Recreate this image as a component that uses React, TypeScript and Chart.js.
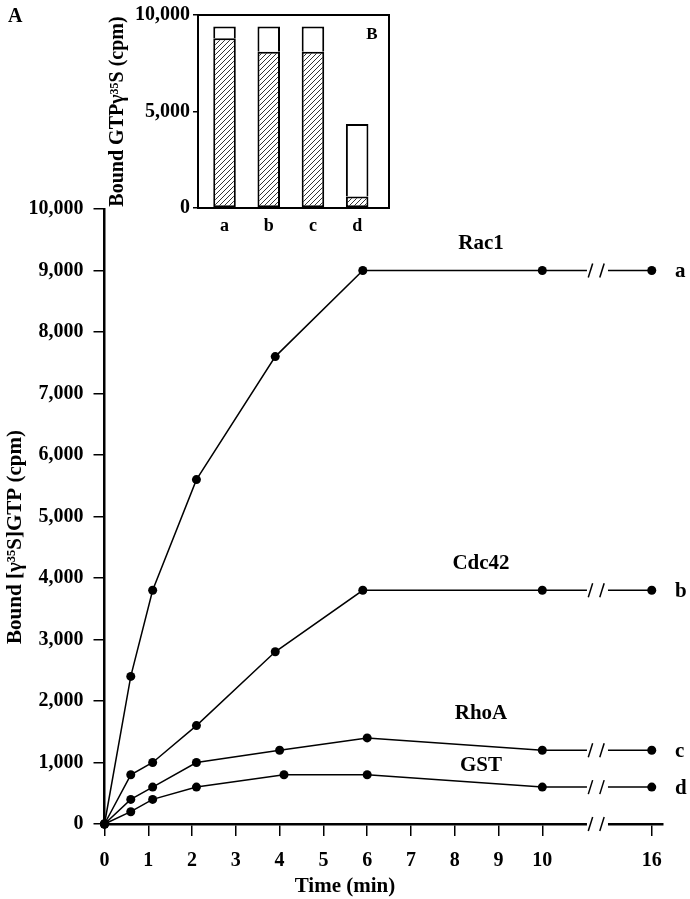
import React, { useEffect, useRef } from 'react';
import { Chart, registerables } from 'chart.js';

Chart.register(...registerables);

const FONT = "'Liberation Serif', 'Times New Roman', Times, serif";

// ---- Panel A data ----
const rac1Time = [0, 0.6, 1.1, 2.1, 3.9, 5.9, 10, 16];
const rac1Values = [0, 2400, 3800, 5600, 7600, 9000, 9000, 9000];
const cdc42Time = [0, 0.6, 1.1, 2.1, 3.9, 5.9, 10, 16];
const cdc42Values = [0, 800, 1000, 1600, 2800, 3800, 3800, 3800];
const rhoATime = [0, 0.6, 1.1, 2.1, 4.0, 6.0, 10, 16];
const rhoAValues = [0, 400, 600, 1000, 1200, 1400, 1200, 1200];
const gstTime = [0, 0.6, 1.1, 2.1, 4.1, 6.0, 10, 16];
const gstValues = [0, 200, 400, 600, 800, 800, 600, 600];
const seriesNames = ['Rac1', 'Cdc42', 'RhoA', 'GST'];
const seriesLetters = ['a', 'b', 'c', 'd'];
const xTickTimes = [0, 1, 2, 3, 4, 5, 6, 7, 8, 9, 10, 16];
const yMaxA = 10000;
const yStepA = 1000;

// ---- Panel B (inset) data ----
const insetCategories = ['a', 'b', 'c', 'd'];
const insetHatched = [8800, 8100, 8100, 600];
const insetOpen = [600, 1300, 1300, 3750];
const yMaxB = 10000;
const yStepB = 5000;

// broken time axis: after 10 min the scale is compressed
const BREAK_AT = 10;
const COMPRESS = 2.5 / 6;
const pos = (t: number) => (t <= BREAK_AT ? t : BREAK_AT + (t - BREAK_AT) * COMPRESS);
const X_END_TIME = 16.6;
const GAP_START = 11.02;
const GAP_END = 11.5;

const fmt = (v: number) => Number(v).toLocaleString('en-US');

function makeHatch(): CanvasPattern | string {
  const c = document.createElement('canvas');
  c.width = 5;
  c.height = 5;
  const g = c.getContext('2d');
  if (!g) return '#999';
  g.fillStyle = '#ffffff';
  g.fillRect(0, 0, 5, 5);
  g.strokeStyle = '#333333';
  g.lineWidth = 1;
  g.beginPath();
  g.moveTo(-1, 6);
  g.lineTo(6, -1);
  g.moveTo(-1, 1);
  g.lineTo(1, -1);
  g.moveTo(4, 6);
  g.lineTo(6, 4);
  g.stroke();
  return g.createPattern(c, 'repeat') || '#999';
}

export default function App() {
  const mainRef = useRef<HTMLCanvasElement>(null);
  const insetRef = useRef<HTMLCanvasElement>(null);

  useEffect(() => {
    if (!mainRef.current || !insetRef.current) return;
    const series = [
      { t: rac1Time, v: rac1Values },
      { t: cdc42Time, v: cdc42Values },
      { t: rhoATime, v: rhoAValues },
      { t: gstTime, v: gstValues },
    ];
    const labelOffsets = [27, 27, 37, 22];

    const annotPlugin = {
      id: 'annotA',
      afterDraw(chart: any) {
        const ctx = chart.ctx;
        const xs = chart.scales.x;
        const ys = chart.scales.y;
        const area = chart.chartArea;
        ctx.save();
        // axis / line break
        const g0 = xs.getPixelForValue(GAP_START);
        const g1 = xs.getPixelForValue(GAP_END);
        ctx.fillStyle = '#ffffff';
        ctx.fillRect(g0, area.top - 2, g1 - g0, area.bottom - area.top + 4);
        ctx.strokeStyle = '#000';
        ctx.lineWidth = 1.5;
        const slashAt = (cy: number) => {
          [g0 + 3.5, g1 - 6].forEach((cx) => {
            ctx.beginPath();
            ctx.moveTo(cx - 2.2, cy + 7);
            ctx.lineTo(cx + 2.2, cy - 7);
            ctx.stroke();
          });
        };
        series.forEach((s) => {
          slashAt(ys.getPixelForValue(s.v[s.v.length - 2]));
        });
        slashAt(area.bottom);

        ctx.fillStyle = '#000';
        ctx.textBaseline = 'middle';
        // series names and letters
        ctx.font = `bold 21px ${FONT}`;
        ctx.textAlign = 'center';
        series.forEach((s, i) => {
          const last = s.v[s.v.length - 1];
          ctx.fillText(seriesNames[i], xs.getPixelForValue(8.6), ys.getPixelForValue(last) - labelOffsets[i]);
        });
        ctx.textAlign = 'left';
        series.forEach((s, i) => {
          const last = s.v[s.v.length - 1];
          ctx.fillText(seriesLetters[i], 675, ys.getPixelForValue(last) + 1);
        });
        // panel letter
        ctx.font = `bold 20px ${FONT}`;
        ctx.fillText('A', 8, 17);
        // axis titles
        ctx.font = `bold 21px ${FONT}`;
        ctx.textAlign = 'center';
        ctx.fillText('Time (min)', 345, 887);
        ctx.translate(16, 537);
        ctx.rotate(-Math.PI / 2);
        ctx.fillText('Bound [γ³⁵S]GTP (cpm)', 0, 0);
        ctx.restore();
      },
    };

    const main = new Chart(mainRef.current, {
      type: 'line',
      data: {
        datasets: series.map((s, i) => ({
          label: seriesNames[i],
          data: s.t.map((t, j) => ({ x: pos(t), y: s.v[j] })),
          borderColor: '#000',
          backgroundColor: '#000',
          borderWidth: 1.5,
          pointRadius: 4.5,
          pointBackgroundColor: '#000',
          pointBorderWidth: 0,
          fill: false,
          tension: 0,
          clip: false,
        })),
      },
      options: {
        animation: false,
        responsive: false,
        maintainAspectRatio: false,
        layout: { padding: { left: 0, top: 209, right: 27.3, bottom: 0 } },
        plugins: { legend: { display: false }, tooltip: { enabled: false } },
        scales: {
          x: {
            type: 'linear',
            min: 0,
            max: pos(X_END_TIME),
            afterBuildTicks: (s: any) => {
              s.ticks = xTickTimes.map((t) => ({ value: pos(t) }));
            },
            afterFit: (s: any) => {
              s.height = 75;
            },
            ticks: {
              autoSkip: false,
              maxRotation: 0,
              padding: 13,
              color: '#000',
              font: { family: FONT, size: 20, weight: 'bold' },
              callback: (v: any) => {
                const idx = xTickTimes.findIndex((t) => Math.abs(pos(t) - Number(v)) < 1e-6);
                return idx >= 0 ? String(xTickTimes[idx]) : '';
              },
            },
            grid: { display: true, drawOnChartArea: false, drawTicks: true, tickLength: 12, lineWidth: 1.5, color: '#000' },
            border: { display: true, width: 2.5, color: '#000' },
          },
          y: {
            type: 'linear',
            min: 0,
            max: yMaxA,
            afterFit: (s: any) => {
              s.width = 104.5;
            },
            ticks: {
              stepSize: yStepA,
              padding: 10,
              color: '#000',
              font: { family: FONT, size: 20, weight: 'bold' },
              callback: (v: any) => fmt(v),
            },
            grid: { display: true, drawOnChartArea: false, drawTicks: true, tickLength: 11, lineWidth: 1.5, color: '#000' },
            border: { display: true, width: 2.5, color: '#000' },
          },
        },
      },
      plugins: [annotPlugin],
    } as any);

    const hatch = makeHatch();
    const framePlugin = {
      id: 'frameB',
      afterDraw(chart: any) {
        const ctx = chart.ctx;
        const a = chart.chartArea;
        ctx.save();
        ctx.strokeStyle = '#000';
        ctx.lineWidth = 2;
        ctx.strokeRect(a.left, a.top, a.right - a.left, a.bottom - a.top);
        ctx.fillStyle = '#000';
        ctx.font = `bold 17px ${FONT}`;
        ctx.textAlign = 'center';
        ctx.textBaseline = 'middle';
        ctx.fillText('B', a.right - 17, a.top + 20);
        ctx.restore();
      },
    };

    const inset = new Chart(insetRef.current, {
      type: 'bar',
      data: {
        datasets: [
          {
            label: 'hatched',
            data: insetHatched.map((v, i) => ({ x: i, y: v })),
            backgroundColor: hatch,
            borderColor: '#000',
            borderWidth: 2,
            borderSkipped: false,
            stack: 's',
            barPercentage: 0.51,
            categoryPercentage: 1,
          },
          {
            label: 'open',
            data: insetOpen.map((v, i) => ({ x: i, y: v })),
            backgroundColor: '#fff',
            borderColor: '#000',
            borderWidth: 2,
            borderSkipped: 'bottom',
            stack: 's',
            barPercentage: 0.51,
            categoryPercentage: 1,
          },
        ],
      },
      options: {
        animation: false,
        responsive: false,
        maintainAspectRatio: false,
        layout: { padding: { left: 0, top: 12, right: 11, bottom: 0 } },
        plugins: { legend: { display: false }, tooltip: { enabled: false } },
        scales: {
          x: {
            type: 'linear',
            stacked: true,
            offset: false,
            min: -0.6,
            max: 3.72,
            afterBuildTicks: (s: any) => {
              s.ticks = insetCategories.map((_, i) => ({ value: i }));
            },
            afterFit: (s: any) => {
              s.height = 32;
            },
            ticks: {
              autoSkip: false,
              maxRotation: 0,
              padding: 8,
              color: '#000',
              font: { family: FONT, size: 18, weight: 'bold' },
              callback: (v: any) => insetCategories[Math.round(Number(v))] ?? '',
            },
            grid: { display: false, drawTicks: false, offset: false },
            border: { display: true, width: 2, color: '#000' },
          },
          y: {
            type: 'linear',
            stacked: true,
            min: 0,
            max: yMaxB,
            afterFit: (s: any) => {
              s.width = 98;
            },
            ticks: {
              stepSize: yStepB,
              padding: 3,
              color: '#000',
              font: { family: FONT, size: 20, weight: 'bold' },
              callback: (v: any) => fmt(v),
            },
            title: {
              display: true,
              text: 'Bound GTPγ³⁵S (cpm)',
              color: '#000',
              font: { family: FONT, size: 20, weight: 'bold' },
              padding: { top: 6, bottom: 0 },
            },
            grid: { display: true, drawOnChartArea: false, drawTicks: true, tickLength: 5, lineWidth: 1.5, color: '#000' },
            border: { display: true, width: 2, color: '#000' },
          },
        },
      },
      plugins: [framePlugin],
    } as any);

    return () => {
      main.destroy();
      inset.destroy();
    };
  }, []);

  return (
    <div style={{ position: 'absolute', left: 0, top: 0, width: 690, height: 899, background: '#fff' }}>
      <canvas ref={mainRef} width={690} height={899} style={{ position: 'absolute', left: 0, top: 0, display: 'block' }} />
      <canvas ref={insetRef} width={300} height={240} style={{ position: 'absolute', left: 100, top: 0, display: 'block' }} />
    </div>
  );
}
